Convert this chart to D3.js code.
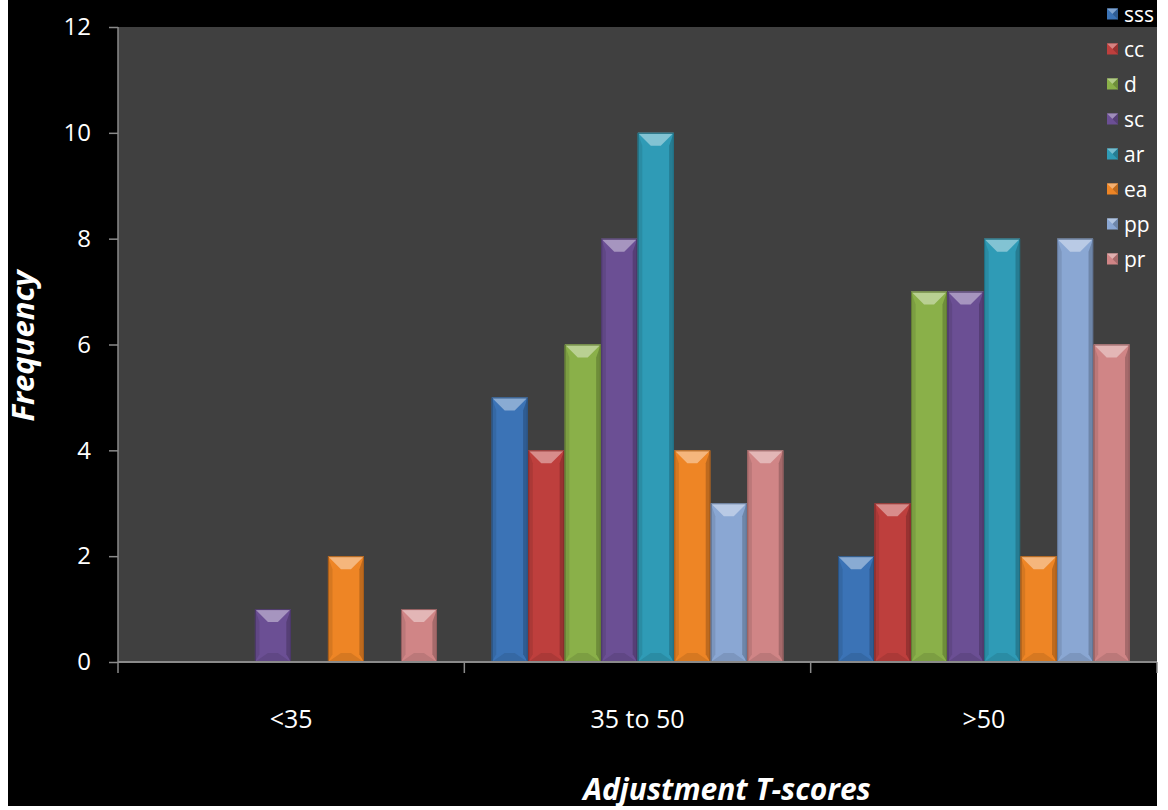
<!DOCTYPE html>
<html>
<head>
<meta charset="utf-8">
<script src="https://cdn.jsdelivr.net/npm/d3@7"></script>
<style>
  html, body { margin: 0; padding: 0; background: #ffffff; }
  svg { display: block; }
</style>
</head>
<body>
<svg id="chart" width="1168" height="810"></svg>
<script>
// Frequency of adjustment T-scores per subscale
const categories = ["<35", "35 to 50", ">50"];
const seriesNames = ["sss", "cc", "d", "sc", "ar", "ea", "pp", "pr"];
const sss = [0, 5, 2];
const cc  = [0, 4, 3];
const d   = [0, 6, 7];
const sc  = [1, 8, 7];
const ar  = [0, 10, 8];
const ea  = [2, 4, 2];
const pp  = [0, 3, 8];
const pr  = [1, 4, 6];
const yTicks = [0, 2, 4, 6, 8, 10, 12];
const seriesColors = ["#3b73b6", "#be3f3d", "#8ab049", "#6b4f94", "#2f9bb6", "#ee8525", "#8aa7d3", "#d08586"];

const seriesValues = [sss, cc, d, sc, ar, ea, pp, pr];

const svg = d3.select("#chart");
const W = 1168, H = 810;
const font = "'Open Sans', 'Noto Sans', sans-serif";

// frame: white margin with black canvas
svg.append("rect").attr("width", W).attr("height", H).attr("fill", "#ffffff");
svg.append("rect").attr("x", 8).attr("y", 0).attr("width", 1149).attr("height", 806).attr("fill", "#000000");

const plot = { left: 118, right: 1157, top: 27, bottom: 662 };

const x0 = d3.scaleBand().domain(categories).range([plot.left, plot.right]).padding(0);
const x1 = d3.scaleBand().domain(seriesNames).range([0, x0.bandwidth()]).paddingInner(0.015).paddingOuter(0.75);
const y = d3.scaleLinear().domain([0, 12]).range([plot.bottom, plot.top]);

// plot background
svg.append("rect")
  .attr("x", plot.left).attr("y", plot.top)
  .attr("width", plot.right - plot.left).attr("height", plot.bottom - plot.top)
  .attr("fill", "#404040");

function shade(c, k) {
  // k > 0 lightens toward white, k < 0 darkens toward black
  const col = d3.rgb(c);
  return k >= 0 ? d3.interpolateRgb(col, "#ffffff")(k) : d3.interpolateRgb(col, "#000000")(-k);
}

// bars with bevelled faces
const bars = svg.append("g");
categories.forEach((cat, ci) => {
  seriesNames.forEach((s, si) => {
    const v = seriesValues[si][ci];
    if (!v) return;
    const col = seriesColors[si];
    const bx = x0(cat) + x1(s);
    const bw = x1.bandwidth();
    const by = y(v);
    const bh = y(0) - by;
    const b = Math.min(13, bh / 2, bw / 2);
    const g = bars.append("g");
    g.append("rect").attr("x", bx).attr("y", by).attr("width", bw).attr("height", bh)
      .attr("fill", col);
    const pts = a => a.map(p => p.join(",")).join(" ");
    // left face
    g.append("polygon").attr("points", pts([[bx, by], [bx + b * 0.35, by + b], [bx + b * 0.35, by + bh - b * 0.6], [bx, by + bh]]))
      .attr("fill", shade(col, -0.1));
    // right face
    g.append("polygon").attr("points", pts([[bx + bw, by], [bx + bw - b * 0.35, by + b], [bx + bw - b * 0.35, by + bh - b * 0.6], [bx + bw, by + bh]]))
      .attr("fill", shade(col, -0.2));
    // bottom face
    g.append("polygon").attr("points", pts([[bx, by + bh], [bx + bw, by + bh], [bx + bw - b, by + bh - b * 0.7], [bx + b, by + bh - b * 0.7]]))
      .attr("fill", shade(col, -0.1));
    // top face
    g.append("polygon").attr("points", pts([[bx, by], [bx + bw, by], [bx + bw - b, by + b], [bx + b, by + b]]))
      .attr("fill", shade(col, 0.4));
    // outline
    g.append("rect").attr("x", bx + 0.5).attr("y", by + 0.5).attr("width", bw - 1).attr("height", bh - 1)
      .attr("fill", "none").attr("stroke", shade(col, -0.3)).attr("stroke-width", 1);
  });
});

// y axis
const yAxis = d3.axisLeft(y).tickValues(yTicks).tickSize(9).tickPadding(18).tickFormat(d3.format("d"));
const gy = svg.append("g").attr("transform", `translate(${plot.left},0)`).call(yAxis);
gy.select(".domain").attr("stroke", "#8a8a8a").attr("stroke-width", 1.5).attr("d", `M0,${plot.top}V${plot.bottom}`);
gy.selectAll(".tick line").attr("stroke", "#8a8a8a").attr("stroke-width", 1.5);
gy.selectAll(".tick text").attr("fill", "#ffffff").attr("font-family", font).attr("font-size", 24);

// x axis: boundary ticks between categories
const gx = svg.append("g");
gx.append("line").attr("x1", plot.left).attr("x2", plot.right).attr("y1", plot.bottom).attr("y2", plot.bottom)
  .attr("stroke", "#8a8a8a").attr("stroke-width", 2);
const bounds = categories.map(c => x0(c)).concat([x0(categories[categories.length - 1]) + x0.bandwidth()]);
gx.selectAll("line.tk").data(bounds).join("line").attr("class", "tk")
  .attr("x1", d => d).attr("x2", d => d).attr("y1", plot.bottom).attr("y2", plot.bottom + 11)
  .attr("stroke", "#8a8a8a").attr("stroke-width", 1.5);
gx.selectAll("text").data(categories).join("text")
  .attr("x", d => x0(d) + x0.bandwidth() / 2).attr("y", 728)
  .attr("text-anchor", "middle").attr("fill", "#ffffff")
  .attr("font-family", font).attr("font-size", 25).text(d => d);

// axis titles
svg.append("text").attr("transform", "translate(34,346) rotate(-90)")
  .attr("text-anchor", "middle").attr("fill", "#ffffff")
  .attr("font-family", font).attr("font-size", 31).attr("font-weight", "bold").attr("font-style", "italic")
  .text("Frequency");
svg.append("text").attr("x", 727).attr("y", 800)
  .attr("text-anchor", "middle").attr("fill", "#ffffff")
  .attr("font-family", font).attr("font-size", 30).attr("font-weight", "bold").attr("font-style", "italic")
  .text("Adjustment T-scores");

// legend
const legend = svg.append("g");
seriesNames.forEach((s, i) => {
  const ly = 14 + i * 35;
  const col = seriesColors[i];
  const sz = 11;
  const lx = 1107;
  const g = legend.append("g");
  g.append("rect").attr("x", lx).attr("y", ly - sz / 2).attr("width", sz).attr("height", sz).attr("fill", col);
  g.append("polygon")
    .attr("points", [[lx, ly - sz / 2], [lx + sz, ly - sz / 2], [lx + sz / 2, ly]].map(p => p.join(",")).join(" "))
    .attr("fill", shade(col, 0.35));
  g.append("polygon")
    .attr("points", [[lx + sz, ly - sz / 2], [lx + sz, ly + sz / 2], [lx + sz / 2, ly]].map(p => p.join(",")).join(" "))
    .attr("fill", shade(col, -0.2));
  g.append("text").attr("x", 1124).attr("y", ly + 8).attr("fill", "#ffffff")
    .attr("font-family", font).attr("font-size", 21).text(s);
});
</script>
</body>
</html>
